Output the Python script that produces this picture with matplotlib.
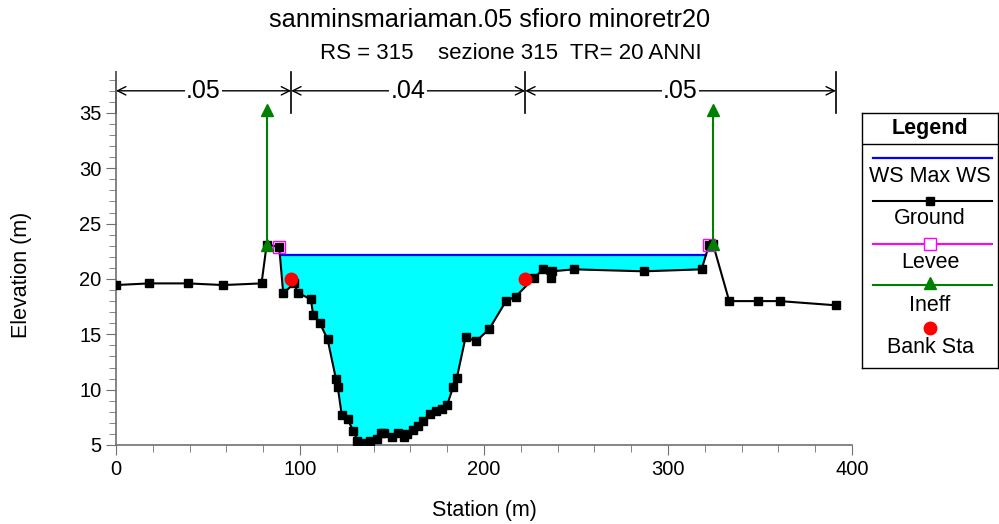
"""
Cross section plot (HEC-RAS style) for RS 315, TR 20 years.
"""

import matplotlib.pyplot as plt
import numpy as np
from matplotlib.ticker import MultipleLocator

plt.rcParams["font.family"] = ["Liberation Sans", "DejaVu Sans"]

# --- data -----------------------------------------------------------------
station = [0.0, 18.1, 39.0, 58.4, 79.1, 81.9, 88.7, 90.9, 96.8, 98.7, 105.9,
           107.2, 110.9, 115.0, 119.6, 120.5, 122.7, 125.9, 129.0, 131.2,
           134.9, 138.1, 141.6, 144.0, 145.8, 149.9, 153.1, 156.5, 158.4,
           161.6, 164.3, 167.0, 170.6, 173.9, 177.1, 180.0, 183.3, 185.2,
           190.0, 195.7, 202.9, 212.0, 217.2, 227.3, 232.2, 236.2, 237.0,
           248.9, 286.9, 318.3, 322.3, 324.4, 333.3, 348.8, 360.8, 391.3]
elevation = [19.45, 19.6, 19.6, 19.45, 19.6, 23.1, 22.9, 18.7, 19.6, 18.76,
             18.16, 16.74, 15.99, 14.55, 10.93, 10.27, 7.71, 7.32, 6.26, 5.39,
             5.21, 5.39, 5.51, 6.06, 6.11, 5.70, 6.06, 5.70, 5.99, 6.36, 6.72,
             7.20, 7.77, 8.07, 8.25, 8.61, 10.27, 11.03, 14.73, 14.37, 15.48,
             18.01, 18.40, 20.11, 20.87, 20.11, 20.69, 20.87, 20.69, 20.87,
             23.07, 23.2, 18.0, 18.0, 18.0, 17.62]

ws_elev = 22.16

levee_sta = [88.7, 322.3]
levee_elev = [22.9, 23.07]

ineff_left_sta = [82.2, 82.2]
ineff_left_elev = [23.1, 35.3]
ineff_right_sta = [324.6, 324.6]
ineff_right_elev = [23.2, 35.3]

bank_sta = [95.2, 222.4]
bank_elev = [20.0, 20.0]

n_breaks = [0.0, 95.2, 222.4, 391.3]
n_values = [".05", ".04", ".05"]
n_label_elev = 37.0

title = "sanminsmariaman.05 sfioro minoretr20"
subtitle = "RS = 315    sezione 315  TR= 20 ANNI"


def wet_limits(x, z, ws, lo, hi):
    """First and last station where ground crosses the water surface."""
    x = np.asarray(x)
    z = np.asarray(z)
    hits = []
    for i in range(len(x) - 1):
        if x[i] < lo or x[i + 1] > hi:
            continue
        if (z[i] - ws) * (z[i + 1] - ws) < 0:
            t = (ws - z[i]) / (z[i + 1] - z[i])
            hits.append(x[i] + t * (x[i + 1] - x[i]))
    return hits[0], hits[-1]


fig = plt.figure(figsize=(9.99, 5.24), dpi=100)
ax = fig.add_axes([0.1161, 0.1508, 0.7367, 0.7118])

sta = np.asarray(station)
elv = np.asarray(elevation)
x_left, x_right = wet_limits(sta, elv, ws_elev, levee_sta[0], levee_sta[1])

# water fill between ground and water surface
mask = (sta >= levee_sta[0]) & (sta <= levee_sta[1])
ax.fill_between(sta[mask], elv[mask], ws_elev, where=elv[mask] <= ws_elev,
                interpolate=True, color="#00FFFF", linewidth=0, zorder=1)
ax.plot([x_left, x_right], [ws_elev, ws_elev], color="#0000FF", lw=1.6, zorder=2)

ax.plot(station, elevation, color="black", lw=1.5, marker="s", ms=6, zorder=3)
ax.plot(levee_sta, levee_elev, ls="none", marker="s", ms=8, mfc="none",
        mec="#FF00FF", mew=1.0, zorder=4)
for xs, zs in [(ineff_left_sta, ineff_left_elev), (ineff_right_sta, ineff_right_elev)]:
    ax.plot(xs, zs, color="#008000", lw=1.5, marker="^", ms=9, zorder=5)
ax.plot(bank_sta, bank_elev, ls="none", marker="o", ms=9, color="#FF0000", zorder=6)

# Manning's n dimension lines
for i, label in enumerate(n_values):
    a, b = n_breaks[i], n_breaks[i + 1]
    ax.annotate("", xy=(a, n_label_elev), xytext=(b, n_label_elev),
                arrowprops=dict(arrowstyle="<->", color="black", lw=1.0,
                                shrinkA=0, shrinkB=0, mutation_scale=15))
    ax.text((a + b) / 2, n_label_elev, label, ha="center", va="center",
            fontsize=18, bbox=dict(facecolor="white", edgecolor="none", pad=1))
for xb in n_breaks:
    ax.plot([xb, xb], [35.0, 38.7], color="black", lw=1.2, clip_on=False)

ax.set_xlim(0, 400)
ax.set_ylim(5, 38.7)
ax.xaxis.set_major_locator(MultipleLocator(100))
ax.xaxis.set_minor_locator(MultipleLocator(20))
ax.yaxis.set_major_locator(MultipleLocator(5))
ax.yaxis.set_minor_locator(MultipleLocator(1))
ax.set_yticks([5, 10, 15, 20, 25, 30, 35])
for side in ["top", "right"]:
    ax.spines[side].set_visible(False)
for side in ["left", "bottom"]:
    ax.spines[side].set_color("#707070")
    ax.spines[side].set_linewidth(1.2)
ax.tick_params(which="major", length=7, color="#707070", labelsize=14.5)
ax.tick_params(which="minor", length=5, color="#707070")
ax.set_xlabel("Station (m)", fontsize=15.5)
ax.set_ylabel("Elevation (m)", fontsize=15.5)
ax.xaxis.set_label_coords(0.5, -0.147)
ax.yaxis.set_label_coords(-0.114, 0.456)

fig.text(0.4905, 0.962, title, ha="center", va="center", fontsize=18.3)
fig.text(0.5115, 0.897, subtitle, ha="center", va="center", fontsize=16)

# legend box drawn by hand
lg = fig.add_axes([0.8629, 0.2977, 0.1361, 0.4866])
lg.set_xlim(0, 1)
lg.set_ylim(0, 1)
lg.set_xticks([])
lg.set_yticks([])
for s in lg.spines.values():
    s.set_linewidth(1.0)
    s.set_color("black")
lg.text(0.5, 0.941, "Legend", ha="center", va="center", fontsize=15.5, weight="bold")
lg.axhline(0.879, color="black", lw=1.0)
x0, x1 = 0.081, 0.956
lg.plot([x0, x1], [0.824, 0.824], color="#0000FF", lw=1.6)
lg.text(0.5, 0.75, "WS Max WS", ha="center", va="center", fontsize=15.5)
lg.plot([x0, x1], [0.656, 0.656], color="black", lw=1.5)
lg.plot([0.5], [0.656], ls="none", marker="s", ms=6, color="black")
lg.text(0.5, 0.586, "Ground", ha="center", va="center", fontsize=15.5)
lg.plot([x0, x1], [0.488, 0.488], color="#FF00FF", lw=1.5)
lg.plot([0.5], [0.488], ls="none", marker="s", ms=8, mfc="white", mec="#FF00FF")
lg.text(0.5, 0.414, "Levee", ha="center", va="center", fontsize=15.5)
lg.plot([x0, x1], [0.324, 0.324], color="#008000", lw=1.5)
lg.plot([0.5], [0.335], ls="none", marker="^", ms=9, color="#008000")
lg.text(0.5, 0.246, "Ineff", ha="center", va="center", fontsize=15.5)
lg.plot([0.5], [0.156], ls="none", marker="o", ms=9, color="#FF0000")
lg.text(0.5, 0.082, "Bank Sta", ha="center", va="center", fontsize=15.5)

fig.savefig("out.png", dpi=100)
